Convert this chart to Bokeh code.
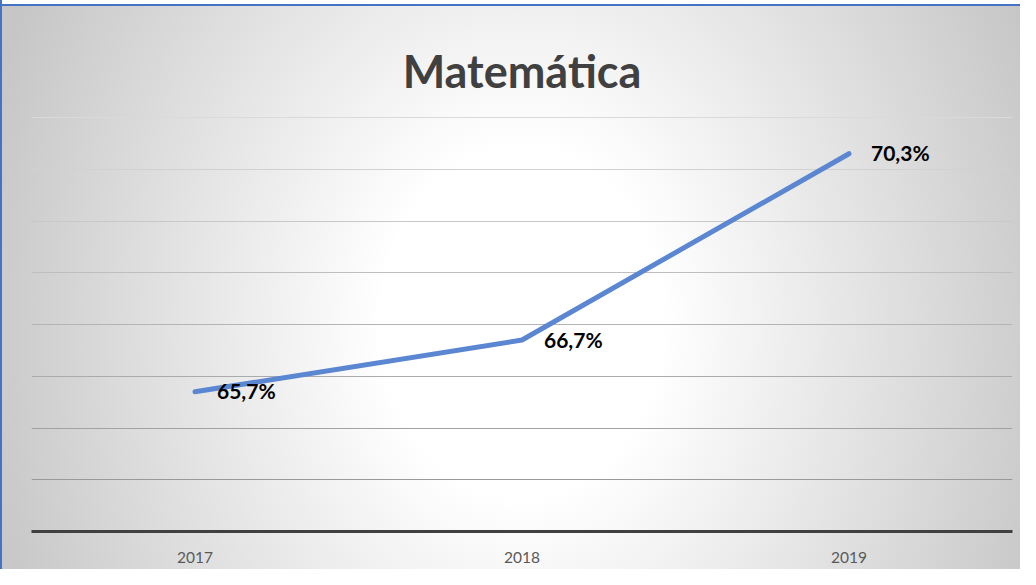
from bokeh.plotting import figure
from bokeh.models import FactorRange, Range1d, Grid, FixedTicker, ColumnDataSource, Label
from bokeh.core.properties import value
from bokeh.embed import file_html
from bokeh.resources import INLINE

years = ["2017", "2018", "2019"]
scores = [65.7, 66.7, 70.3]
labels = ["65,7%", "66,7%", "70,3%"]
grid_levels = [64, 65, 66, 67, 68, 69, 70, 71]
grid_colors = ["#999999", "#a2a2a2", "#ababab", "#b4b4b4", "#bebebe", "#c8c8c8", "#d1d1d1", "#dadada"]
title_text = "Matemática"

src = ColumnDataSource(dict(x=years, y=scores, t=labels))

W, H = 1020, 569
ML, MR, MT, MB = 31, 8, 0, 38
frame_w = W - ML - MR
frame_h = H - MT - MB          # 531 px
px_per_unit = 51.75
y_lo = 63
y_hi = y_lo + frame_h / px_per_unit

p = figure(width=W, height=H, x_range=FactorRange(factors=years, range_padding=0),
           y_range=Range1d(y_lo, y_hi), output_backend="svg", toolbar_location=None,
           min_border_left=ML, min_border_right=MR, min_border_top=MT, min_border_bottom=MB)

p.background_fill_alpha = 0
p.border_fill_alpha = 0
p.outline_line_color = None
p.styles = {
    "background-image": ("linear-gradient(#ffffff,#ffffff), linear-gradient(#4472c4,#4472c4), "
                         "radial-gradient(ellipse 560px 700px at 522px 322px, #ffffff 0%, #ffffff 25%, #c6c6c6 100%)"),
    "background-position": "left 0px top 0px, left 0px top 4px, left 0px top 0px",
    "background-size": "100% 4px, 100% 2px, 100% 100%",
    "background-repeat": "no-repeat",
    "box-shadow": "inset 2px 0px 0px 0px #4472c4",
}

title = Label(x=frame_w / 2, y=frame_h - 70, x_units="screen", y_units="screen",
              text=title_text, text_font="Lato", text_font_style="bold", text_font_size="45px",
              text_color="#404040", text_align="center", text_baseline="alphabetic")
p.add_layout(title)

p.xgrid.visible = False
p.ygrid.visible = False
for lvl, col in zip(grid_levels, grid_colors):
    g = Grid(dimension=1, ticker=FixedTicker(ticks=[lvl]), grid_line_color=col, grid_line_width=1)
    p.add_layout(g, "center")

p.yaxis.visible = False
ax = p.xaxis[0]
ax.axis_line_color = "#404040"
ax.axis_line_width = 3
ax.major_tick_line_color = None
ax.minor_tick_line_color = None
ax.major_label_text_font = "Lato"
ax.major_label_text_font_size = "15.5px"
ax.major_label_text_color = "#595959"
ax.major_label_standoff = 14

p.line("x", "y", source=src, line_color="#5b86d1", line_width=5, line_cap="round", line_join="round")
p.text("x", "y", text="t", source=src, x_offset=22, y_offset=-1, text_baseline="middle", text_align="left",
       text_font=value("Lato"), text_font_style="bold", text_font_size="21px", text_color="#000000")

open("out.html", "w").write(file_html(p, INLINE))
